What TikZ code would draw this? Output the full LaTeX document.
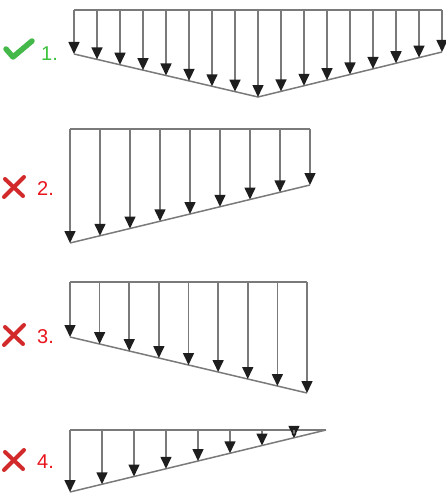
\documentclass[tikz,border=0pt]{standalone}
\usepackage{fontspec}
\setmainfont{Liberation Sans}
\usetikzlibrary{arrows.meta}
\definecolor{shaft}{HTML}{7A7A7A}
\definecolor{tipc}{HTML}{1E1E1E}
\definecolor{okgreen}{HTML}{45B84A}
\definecolor{labgreen}{HTML}{3CC23C}
\definecolor{badred}{HTML}{E8141C}
\definecolor{xred}{HTML}{D22A2A}
\tikzset{
  load/.style={draw=shaft,line width=1.6pt,-{Triangle[length=12pt,width=11pt,fill=tipc,color=tipc]}},
  smallload/.style={draw=shaft,line width=1.3pt,-{Triangle[length=4pt,width=5pt,fill=tipc,color=tipc]}},
  edge/.style={draw=shaft,line width=1.5pt},
  lab/.style={font=\fontsize{20}{20}\selectfont,anchor=base west,inner sep=0pt},
  tick/.style={draw=okgreen,line width=5.5pt,line cap=round,line join=round},
  cross/.style={draw=xred,line width=4pt,line cap=round}
}
\begin{document}
\begin{tikzpicture}[x=1pt,y=-1pt]
\useasboundingbox (0,0) rectangle (446,495);
% ---- diagram 1 ----
\coordinate (a1) at (74,10);
\coordinate (b1) at (442,10);
\coordinate (c1) at (74,54);
\coordinate (d1) at (258,97);
\coordinate (e1) at (442,52);
\draw[edge] (a1) -- (b1);
\draw[edge] (c1) -- (d1) -- (e1);
\foreach \i in {0,...,16}{
  \pgfmathsetmacro{\xx}{74+23*\i}
  \pgfmathsetmacro{\yy}{\i<=8 ? 54+43*\i/8 : 97-45*(\i-8)/8}
  \draw[load] (\xx,10) -- (\xx,\yy);
}
\draw[tick] (6,49) -- (13,57) -- (32,41);
\node[lab,text=labgreen] (l1) at (41,61) {1.};
% ---- diagram 2 ----
\coordinate (a2) at (70,129);
\coordinate (b2) at (310,129);
\coordinate (c2) at (70,243);
\coordinate (e2) at (310,185);
\draw[edge] (a2) -- (b2);
\draw[edge] (c2) -- (e2);
\foreach \i in {0,...,8}{
  \pgfmathsetmacro{\xx}{70+30*\i}
  \pgfmathsetmacro{\yy}{243-58*\i/8}
  \draw[load] (\xx,129) -- (\xx,\yy);
}
\draw[cross] (24,177) -- (4,197);
\draw[cross] (5,179) -- (23,196);
\node[lab,text=badred] (l2) at (37,195) {2.};
% ---- diagram 3 ----
\coordinate (a3) at (70,282);
\coordinate (b3) at (307,282);
\coordinate (c3) at (70,337);
\coordinate (e3) at (307,393);
\draw[edge] (a3) -- (b3);
\draw[edge] (c3) -- (e3);
\foreach \i in {0,...,8}{
  \pgfmathsetmacro{\xx}{70+29.625*\i}
  \pgfmathsetmacro{\yy}{337+56*\i/8}
  \draw[load] (\xx,282) -- (\xx,\yy);
}
\draw[cross] (24,325) -- (4,345);
\draw[cross] (5,327) -- (23,344);
\node[lab,text=badred] (l3) at (37,343) {3.};
% ---- diagram 4 ----
\coordinate (a4) at (70,430);
\coordinate (b4) at (326,430);
\coordinate (c4) at (70,492);
\draw[edge] (a4) -- (b4);
\draw[edge] (c4) -- (b4);
\foreach \i in {0,...,7}{
  \pgfmathsetmacro{\xx}{70+32*\i}
  \pgfmathsetmacro{\yy}{492-62*\i/8}
  \draw[load] (\xx,430) -- (\xx,\yy);
}
\draw[smallload] (294,430) -- (294,437.5);
\draw[cross] (24,450) -- (4,470);
\draw[cross] (5,452) -- (23,469);
\node[lab,text=badred] (l4) at (37,468) {4.};
\end{tikzpicture}
\end{document}
